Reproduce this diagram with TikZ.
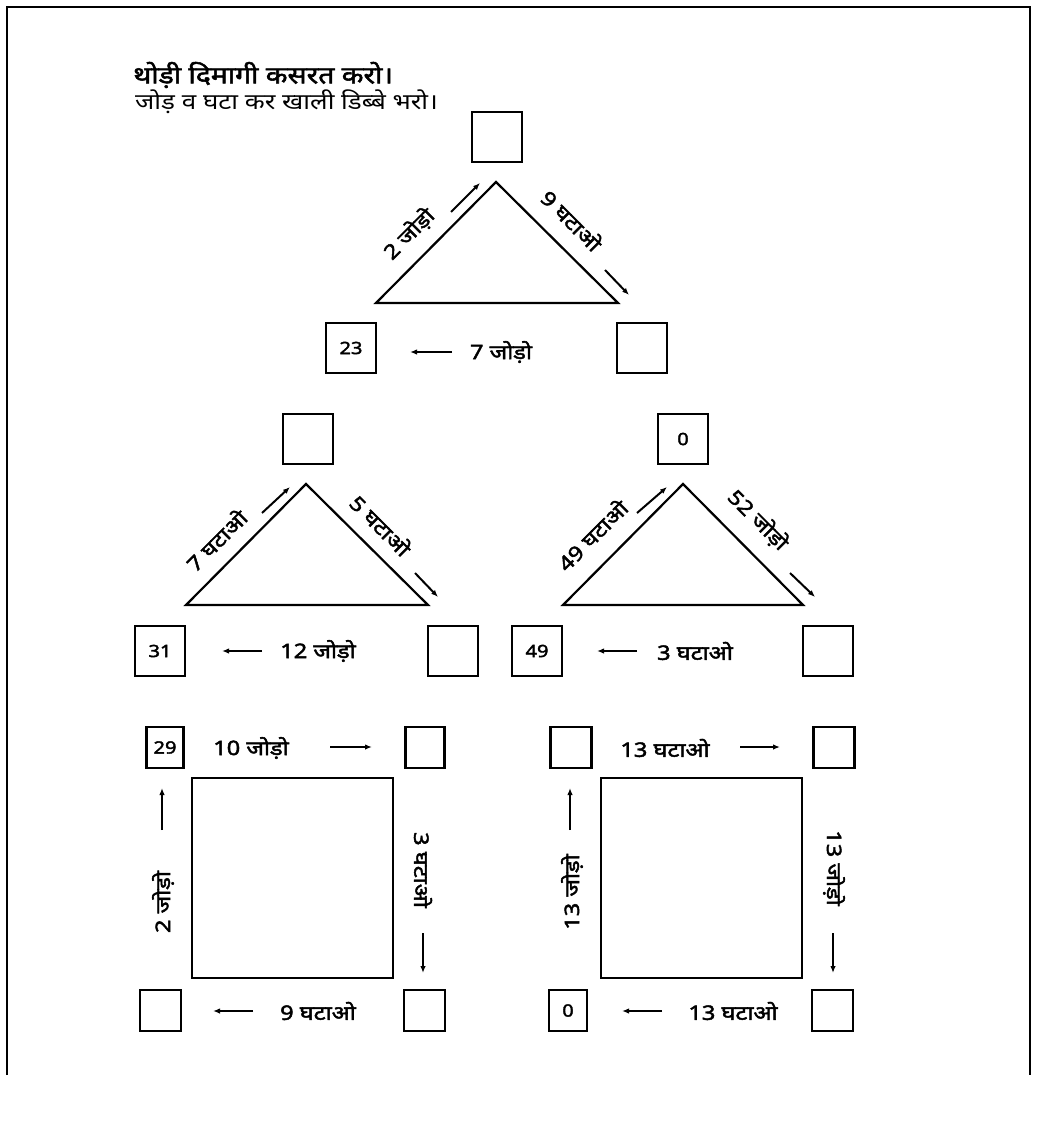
\documentclass[tikz,border=0pt]{standalone}
\usepackage{fontspec}
\setmainfont{Noto Sans}[Script=Devanagari, FakeStretch=1.18, BoldFont={Noto Sans}, BoldFeatures={FakeBold=2.2}]
\usetikzlibrary{arrows.meta}
\begin{document}
\begin{tikzpicture}[x=1pt,y=-1pt,
 bx/.style={draw,line width=2.2pt,minimum width=50pt,minimum height=50pt,inner sep=0pt,font=\bfseries\fontsize{17}{17}\selectfont},
 sbx/.style={bx,minimum width=39pt,minimum height=41pt},
 lbl/.style={font=\bfseries\fontsize{20}{20}\selectfont,inner sep=0pt},
 arr/.style={line width=2pt,-{Latex[length=7pt,width=5.5pt]}},
 shp/.style={line width=2.2pt}]
\useasboundingbox (0,0) rectangle (1047,1147);
\draw[line width=2.4pt] (7,1075) -- (7,7) -- (1030,7) -- (1030,1075);

\node[anchor=west,inner sep=0pt,font=\bfseries\fontsize{24}{24}\selectfont] (title) at (133,75) {थोड़ी दिमागी कसरत करो।};
\node[anchor=west,inner sep=0pt,font=\fontsize{22}{22}\selectfont] (sub) at (135,102) {जोड़ व घटा कर खाली डिब्बे भरो।};

% triangle 1
\node[bx] (t1) at (497,137) {};
\draw[shp] (376,303) -- (496,182) -- (618,303) -- cycle;
\node[bx] (b23) at (351,348) {23};
\node[bx] (b1r) at (642,348) {};
\node[lbl,rotate=45] (l1) at (409,234) {2 जोड़ो};
\node[lbl,rotate=-45] (l2) at (572,220) {9 घटाओ};
\node[lbl] (l3) at (501,352) {7 जोड़ो};
\draw[arr] (451,212) -- (480,183);
\draw[arr] (605,270) -- (629,295);
\draw[arr] (452,352) -- (410,352);

% triangle 2 left
\node[bx] (t2l) at (308,439) {};
\draw[shp] (186,605) -- (306,484) -- (428,605) -- cycle;
\node[bx] (b31) at (160,651) {31};
\node[bx] (b2l) at (453,651) {};
\node[lbl,rotate=45] (l4) at (216,540) {7 घटाओ};
\node[lbl,rotate=-45] (l5) at (381,525) {5 घटाओ};
\node[lbl] (l6) at (318,651) {12 जोड़ो};
\draw[arr] (262,513) -- (290,487);
\draw[arr] (415,573) -- (438,597);
\draw[arr] (262,651) -- (222,651);

% triangle 2 right
\node[bx] (t2r) at (683,439) {0};
\draw[shp] (563,605) -- (683,484) -- (803,605) -- cycle;
\node[bx] (b49) at (537,651) {49};
\node[bx] (b2r) at (828,651) {};
\node[lbl,rotate=45] (l7) at (592,535) {49 घटाओ};
\node[lbl,rotate=-45] (l8) at (758,520) {52 जोड़ो};
\node[lbl] (l9) at (695,651) {3 घटाओ};
\draw[arr] (637,513) -- (667,487);
\draw[arr] (790,573) -- (815,597);
\draw[arr] (637,651) -- (597,651);

% square left
\node[sbx,minimum width=37pt] (b29) at (165,747.5) {29};
\node[sbx] (s1tr) at (425,747.5) {};
\draw[shp] (192,778) rectangle (393,978);
\node[sbx,minimum width=41pt] (s1bl) at (160.5,1010.5) {};
\node[sbx,minimum width=41pt] (s1br) at (424.5,1010.5) {};
\node[lbl] (l10) at (251,748) {10 जोड़ो};
\node[lbl,rotate=90] (l11) at (163,902) {2 जोड़ो};
\node[lbl,rotate=-90] (l12) at (423,870) {3 घटाओ};
\node[lbl] (l13) at (318,1011) {9 घटाओ};
\draw[arr] (330,747) -- (372,747);
\draw[arr] (162,830) -- (162,788);
\draw[arr] (423,933) -- (423,973);
\draw[arr] (253,1011) -- (213,1011);

% square right
\node[sbx,minimum width=41pt] (s2tl) at (571,747.5) {};
\node[sbx,minimum width=41pt] (s2tr) at (834,747.5) {};
\draw[shp] (601,778) rectangle (802,978);
\node[sbx,minimum width=38pt] (b0) at (568,1010.5) {0};
\node[sbx,minimum width=41pt] (s2br) at (832.5,1010.5) {};
\node[lbl] (l14) at (665,748) {13 घटाओ};
\node[lbl,rotate=90] (l15) at (572,892) {13 जोड़ो};
\node[lbl,rotate=-90] (l16) at (834,868) {13 जोड़ो};
\node[lbl] (l17) at (733,1011) {13 घटाओ};
\draw[arr] (740,747) -- (780,747);
\draw[arr] (570,830) -- (570,788);
\draw[arr] (833,933) -- (833,973);
\draw[arr] (662,1011) -- (622,1011);
\end{tikzpicture}
\end{document}
